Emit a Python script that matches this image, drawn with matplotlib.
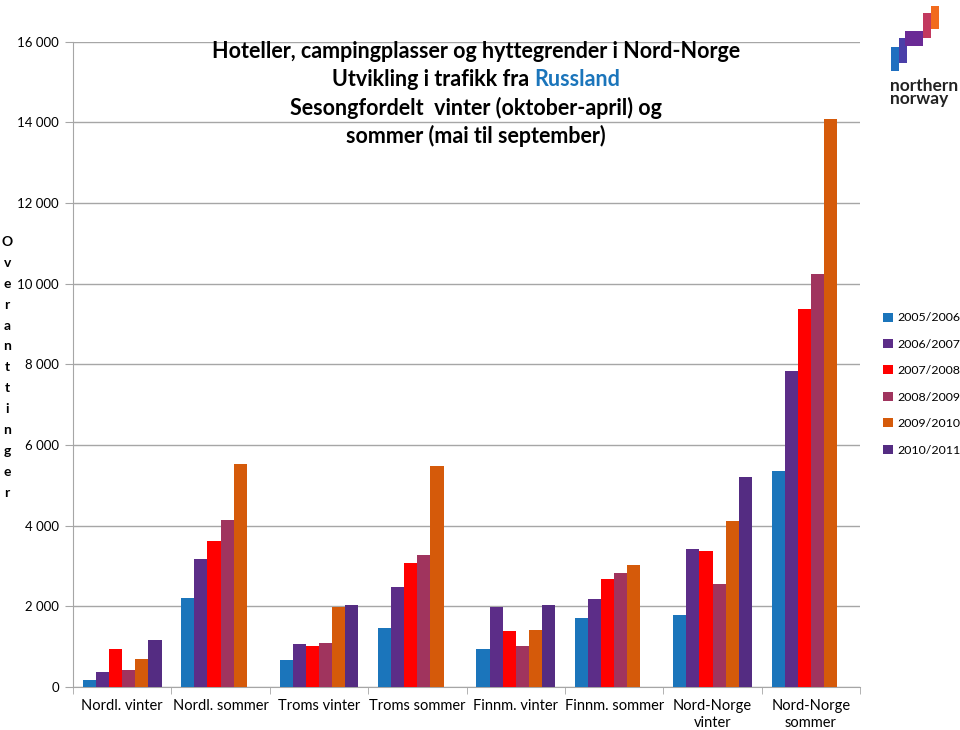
import numpy as np
import matplotlib.pyplot as plt
from matplotlib.patches import Rectangle
from matplotlib.ticker import FuncFormatter

plt.rcParams['font.family'] = ['Lato', 'DejaVu Sans']

categories = ["Nordl. vinter", "Nordl. sommer", "Troms vinter", "Troms sommer",
              "Finnm. vinter", "Finnm. sommer", "Nord-Norge\nvinter", "Nord-Norge\nsommer"]
seasons = ["2005/2006", "2006/2007", "2007/2008", "2008/2009", "2009/2010", "2010/2011"]

v2005 = [170, 2200, 680, 1460, 930, 1700, 1790, 5360]
v2006 = [370, 3170, 1060, 2490, 1980, 2180, 3420, 7840]
v2007 = [940, 3630, 1020, 3070, 1390, 2680, 3370, 9380]
v2008 = [415, 4140, 1100, 3280, 1025, 2820, 2550, 10250]
v2009 = [700, 5530, 1985, 5480, 1405, 3020, 4110, 14070]
v2010 = [1160, np.nan, 2030, np.nan, 2030, np.nan, 5210, np.nan]
series = [v2005, v2006, v2007, v2008, v2009, v2010]

colors = ["#1B75BB", "#5C2D88", "#FF0000", "#A0345E", "#D55A0A", "#542C82"]

fig = plt.figure(figsize=(9.6, 7.3), dpi=100)
ax = fig.add_axes([0.076, 0.059, 0.82, 0.884])

x = np.arange(len(categories))
w = 0.8 / len(series)
for i, (vals, c, lab) in enumerate(zip(series, colors, seasons)):
    ax.bar(x - 0.4 + w * (i + 0.5), vals, width=w, color=c, label=lab, zorder=3)

ax.set_xlim(-0.5, len(categories) - 0.5)
ax.set_ylim(0, 16000)
ax.set_yticks(np.arange(0, 16001, 2000))
ax.yaxis.set_major_formatter(FuncFormatter(lambda v, p: f"{int(v):,}".replace(",", " ")))
ax.grid(axis='y', color='#a6a6a6', linewidth=1, zorder=0)
for s in ['top', 'right']:
    ax.spines[s].set_visible(False)
ax.spines['left'].set_color('#a6a6a6')
ax.spines['bottom'].set_color('#a6a6a6')

ax.set_xticks(x)
ax.set_xticklabels(categories, fontsize=10.5, linespacing=1.2)
ax.tick_params(axis='x', length=0, pad=9)
ax.set_xticks(np.arange(-0.5, len(categories) + 0.5, 1), minor=True)
ax.tick_params(axis='x', which='minor', length=5, color='#a6a6a6')
ax.tick_params(axis='y', labelsize=9.5, length=6, color='#a6a6a6', pad=4)

# title, one line at a time
title_kw = dict(fontsize=15.5, fontweight='bold', va='center')
fig.text(0.496, 1 - 52 / 730, "Hoteller, campingplasser og hyttegrender i Nord-Norge",
         ha='center', **title_kw)
fig.text(0.557, 1 - 80 / 730, "Utvikling i trafikk fra ", ha='right', **title_kw)
fig.text(0.557, 1 - 80 / 730, "Russland", ha='left', color='#1B75BB', **title_kw)
fig.text(0.496, 1 - 108 / 730, "Sesongfordelt  vinter (oktober-april) og",
         ha='center', **title_kw)
fig.text(0.496, 1 - 136 / 730, "sommer (mai til september)", ha='center', **title_kw)

# stacked y label
for k, ch in enumerate("Overanttinger"):
    fig.text(0.0075, 1 - (242 + 20.9 * k) / 730, ch, fontsize=10, fontweight='bold',
             ha='center', va='center')

ax.legend(loc='center left', bbox_to_anchor=(0.915, 0.474), bbox_transform=fig.transFigure,
          frameon=False, fontsize=8.9, handlelength=0.75, handleheight=0.75,
          handletextpad=0.35, labelspacing=1.25, borderaxespad=0)

# logo (pixel coordinates of the picture)
logo = fig.add_axes([890 / 960, 1 - 72 / 730, 50 / 960, 67 / 730])
logo.set_xlim(890, 940)
logo.set_ylim(72, 5)
logo.axis('off')
blocks = [(891, 47, 8, 24, "#1F6FC0"), (899, 38, 8, 25, "#4A3FA8"),
          (905, 31, 18, 15, "#6A2A95"), (923, 13, 8, 25, "#C2395F"),
          (931, 6, 8, 23, "#F26B1D")]
for bx, by, bw, bh, bc in blocks:
    logo.add_patch(Rectangle((bx, by), bw, bh, color=bc, lw=0))
fig.text(0.927, 1 - 78 / 730, "northern\nnorway", fontsize=12.5, fontweight='bold',
         color='#222222', ha='left', va='top', linespacing=0.8)

fig.savefig("out.png", dpi=100)
